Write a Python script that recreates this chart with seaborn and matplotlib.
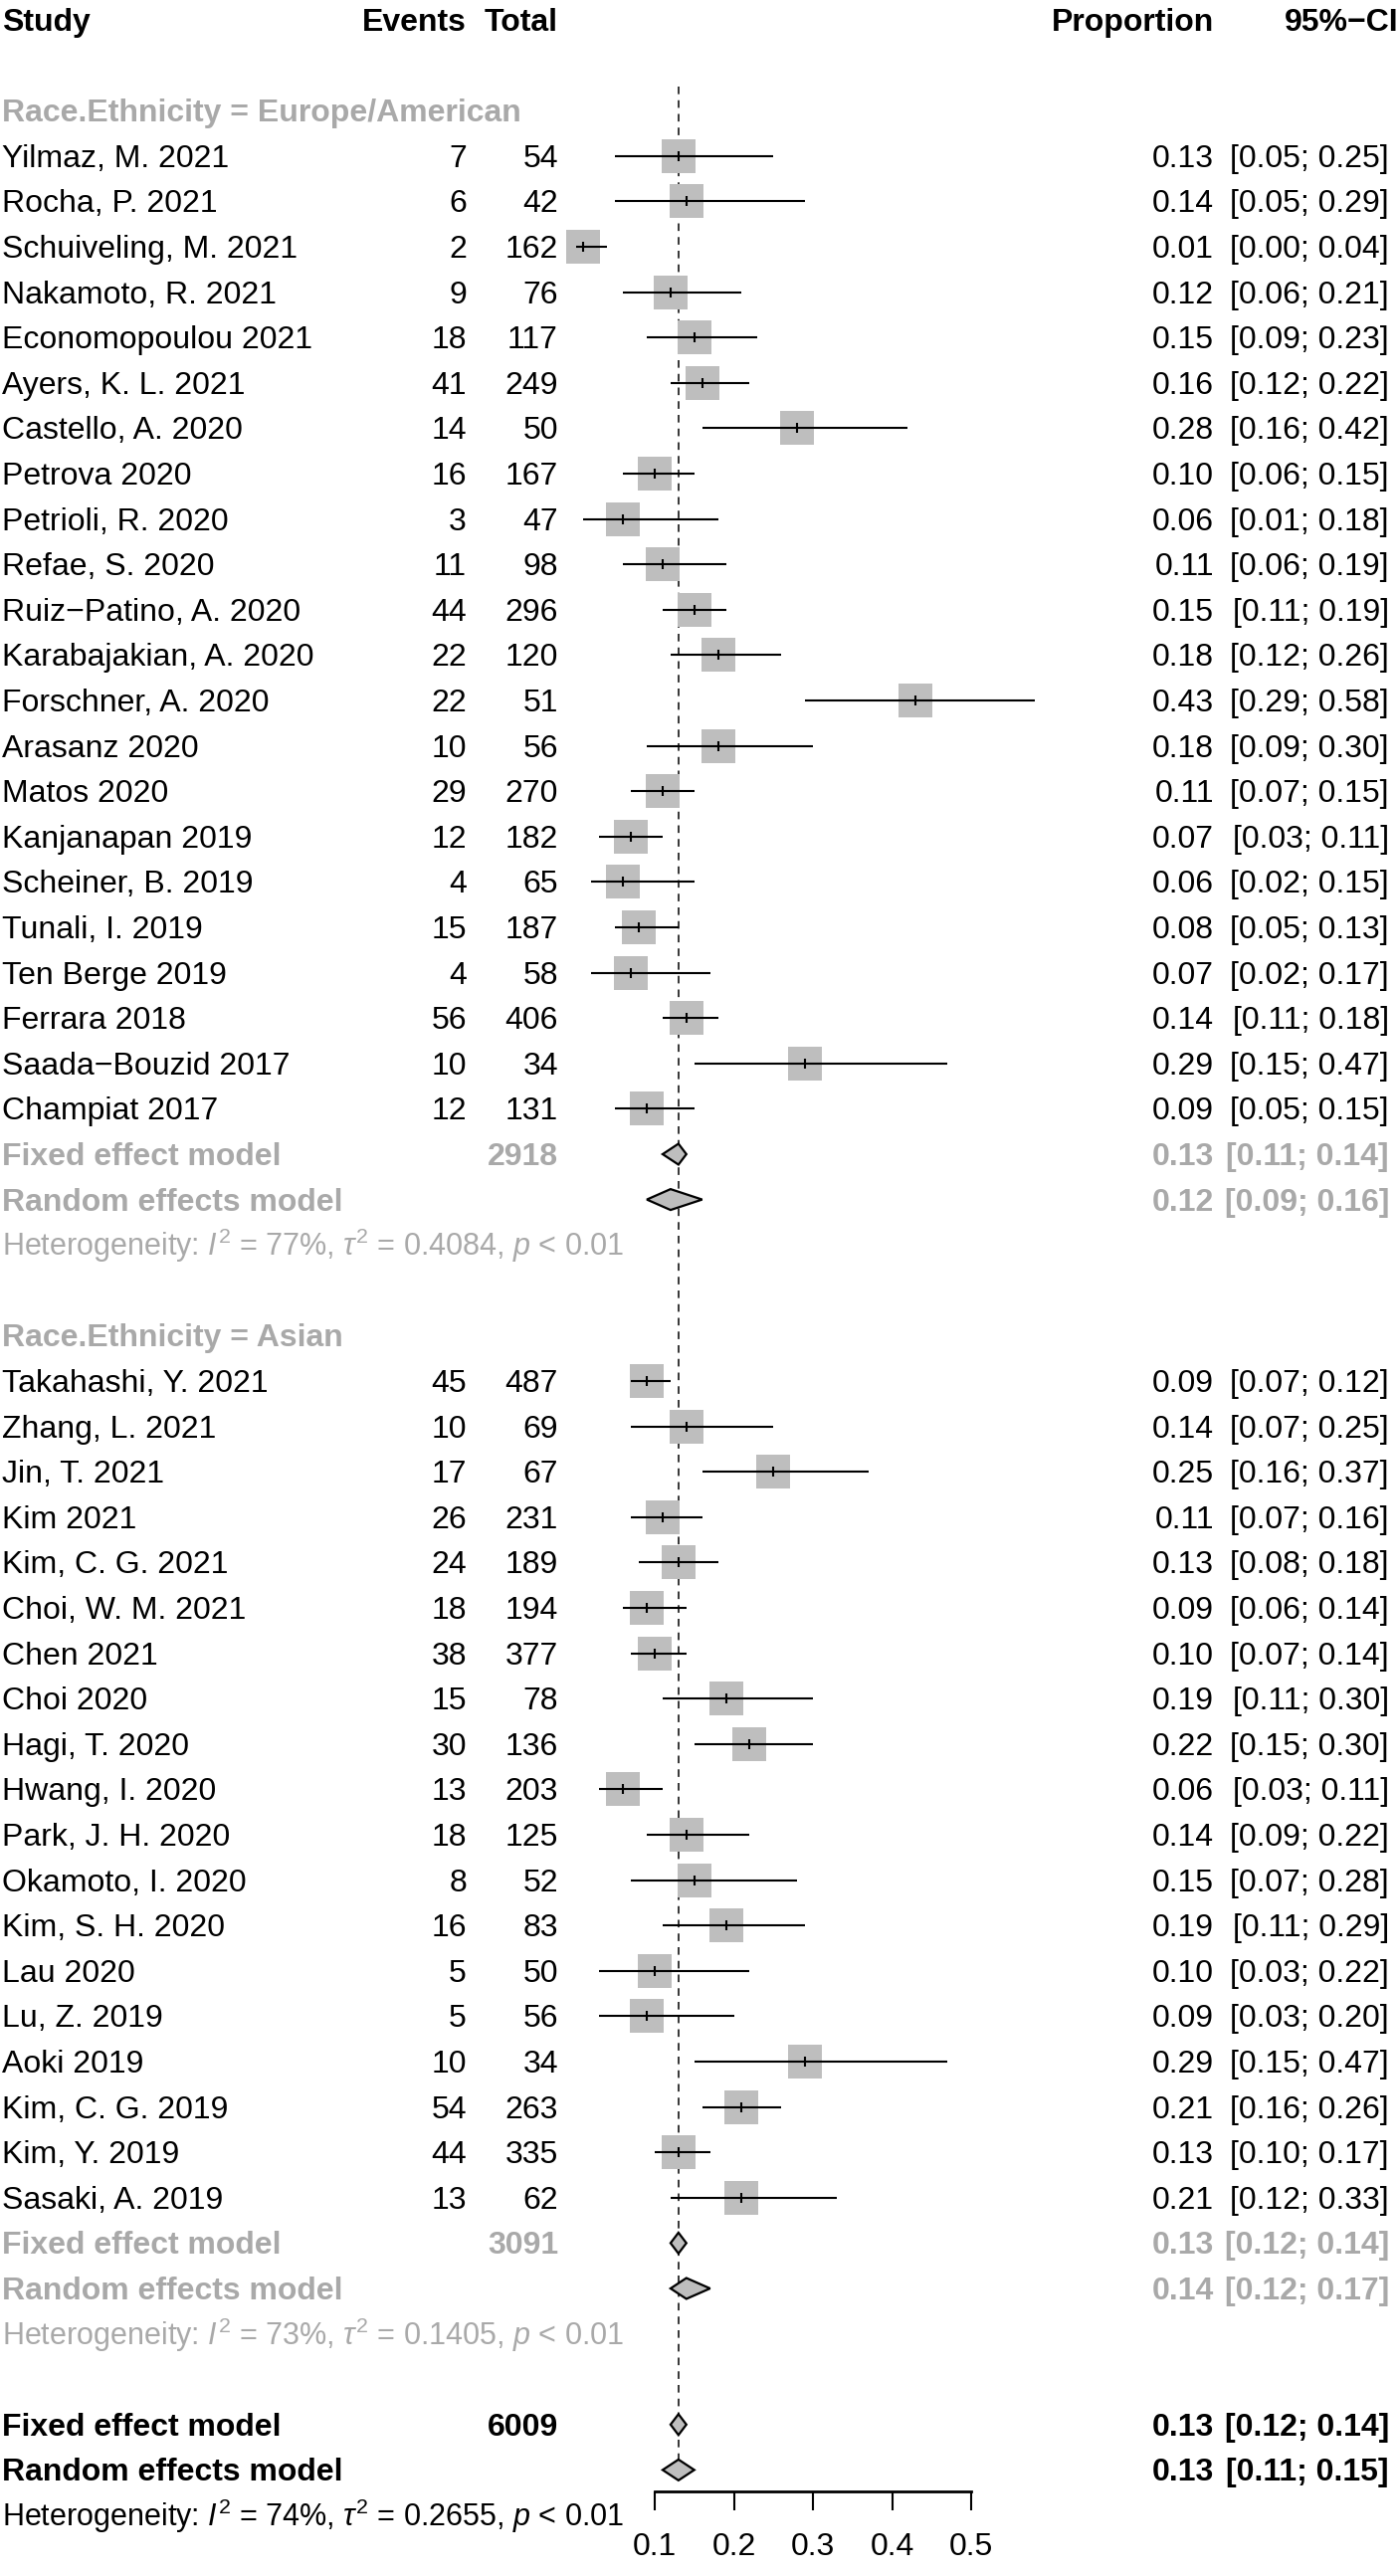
import matplotlib
matplotlib.use("Agg")
import matplotlib.pyplot as plt
import seaborn as sns
import pandas as pd

# ---- data ----
eu_study = ["Yilmaz, M. 2021", "Rocha, P. 2021", "Schuiveling, M. 2021", "Nakamoto, R. 2021",
            "Economopoulou 2021", "Ayers, K. L. 2021", "Castello, A. 2020", "Petrova 2020",
            "Petrioli, R. 2020", "Refae, S. 2020", "Ruiz\u2212Patino, A. 2020", "Karabajakian, A. 2020",
            "Forschner, A. 2020", "Arasanz 2020", "Matos 2020", "Kanjanapan 2019",
            "Scheiner, B. 2019", "Tunali, I. 2019", "Ten Berge 2019", "Ferrara 2018",
            "Saada\u2212Bouzid 2017", "Champiat 2017"]
eu_events = [7, 6, 2, 9, 18, 41, 14, 16, 3, 11, 44, 22, 22, 10, 29, 12, 4, 15, 4, 56, 10, 12]
eu_total = [54, 42, 162, 76, 117, 249, 50, 167, 47, 98, 296, 120, 51, 56, 270, 182, 65, 187, 58, 406, 34, 131]
eu_prop = [0.13, 0.14, 0.01, 0.12, 0.15, 0.16, 0.28, 0.10, 0.06, 0.11, 0.15, 0.18, 0.43, 0.18,
           0.11, 0.07, 0.06, 0.08, 0.07, 0.14, 0.29, 0.09]
eu_lo = [0.05, 0.05, 0.00, 0.06, 0.09, 0.12, 0.16, 0.06, 0.01, 0.06, 0.11, 0.12, 0.29, 0.09,
         0.07, 0.03, 0.02, 0.05, 0.02, 0.11, 0.15, 0.05]
eu_hi = [0.25, 0.29, 0.04, 0.21, 0.23, 0.22, 0.42, 0.15, 0.18, 0.19, 0.19, 0.26, 0.58, 0.30,
         0.15, 0.11, 0.15, 0.13, 0.17, 0.18, 0.47, 0.15]
eu_fixed = [0.13, 0.11, 0.14]
eu_random = [0.12, 0.09, 0.16]
eu_n = 2918
eu_het = ["77%", "0.4084", "< 0.01"]

as_study = ["Takahashi, Y. 2021", "Zhang, L. 2021", "Jin, T. 2021", "Kim 2021", "Kim, C. G. 2021",
            "Choi, W. M. 2021", "Chen 2021", "Choi 2020", "Hagi, T. 2020", "Hwang, I. 2020",
            "Park, J. H. 2020", "Okamoto, I. 2020", "Kim, S. H. 2020", "Lau 2020", "Lu, Z. 2019",
            "Aoki 2019", "Kim, C. G. 2019", "Kim, Y. 2019", "Sasaki, A. 2019"]
as_events = [45, 10, 17, 26, 24, 18, 38, 15, 30, 13, 18, 8, 16, 5, 5, 10, 54, 44, 13]
as_total = [487, 69, 67, 231, 189, 194, 377, 78, 136, 203, 125, 52, 83, 50, 56, 34, 263, 335, 62]
as_prop = [0.09, 0.14, 0.25, 0.11, 0.13, 0.09, 0.10, 0.19, 0.22, 0.06, 0.14, 0.15, 0.19, 0.10,
           0.09, 0.29, 0.21, 0.13, 0.21]
as_lo = [0.07, 0.07, 0.16, 0.07, 0.08, 0.06, 0.07, 0.11, 0.15, 0.03, 0.09, 0.07, 0.11, 0.03,
         0.03, 0.15, 0.16, 0.10, 0.12]
as_hi = [0.12, 0.25, 0.37, 0.16, 0.18, 0.14, 0.14, 0.30, 0.30, 0.11, 0.22, 0.28, 0.29, 0.22,
         0.20, 0.47, 0.26, 0.17, 0.33]
as_fixed = [0.13, 0.12, 0.14]
as_random = [0.14, 0.12, 0.17]
as_n = 3091
as_het = ["73%", "0.1405", "< 0.01"]

all_fixed = [0.13, 0.12, 0.14]
all_random = [0.13, 0.11, 0.15]
all_n = 6009
all_het = ["74%", "0.2655", "< 0.01"]

ref_line = 0.13
x_ticks = [0.1, 0.2, 0.3, 0.4, 0.5]

# ---- layout (pixels of a 1407 x 2589 canvas) ----
W, H = 1407, 2589
ROW0, ROWH = 20, 45.6
X01, PX_PER = 658, 795.0      # pixel of x=0.1, pixels per unit


def fx(px):
    return px / W


GREY = "#a9a9a9"
BOX = "#bebebe"
FS = 23
FS_HET = 22

sns.set_style("white")
plt.rcParams["font.family"] = ["Liberation Sans", "DejaVu Sans"]
plt.rcParams["mathtext.fontset"] = "custom"
plt.rcParams["mathtext.rm"] = "Liberation Sans"
plt.rcParams["mathtext.it"] = "Liberation Sans:italic"
plt.rcParams["mathtext.bf"] = "Liberation Sans:bold"

fig = plt.figure(figsize=(W / 100, H / 100), dpi=100)
ax = fig.add_axes([0, 0, 1, 1])
tr = ax.get_yaxis_transform()

COL_STUDY, COL_EV, COL_TOT, COL_P, COL_CI = fx(2), fx(469), fx(561), fx(1220), fx(1396)
OFF = 0.24  # text baseline offset in rows


def put(x, r, s, ha="left", color="black", bold=False, size=FS):
    ax.text(x, r + OFF, s, transform=tr, ha=ha, va="baseline", fontsize=size,
            color=color, fontweight="bold" if bold else "normal")


def ci_txt(lo, hi):
    return f"[{lo:.2f}; {hi:.2f}]"


def diamond(r, est, lo, hi, h=0.23):
    ax.fill([lo, est, hi, est], [r, r - h, r, r + h], facecolor=BOX,
            edgecolor="black", linewidth=1.6, zorder=4)


def het_txt(h):
    return (r"Heterogeneity: $\mathit{I}^2$ = " + h[0] +
            r", $\tau^2$ = " + h[1] + r", $\mathit{p}$ " + h[2])


# header
put(COL_STUDY, 0, "Study", bold=True)
put(COL_EV, 0, "Events", ha="right", bold=True)
put(COL_TOT, 0, "Total", ha="right", bold=True)
put(COL_P, 0, "Proportion", ha="right", bold=True)
put(fx(1405), 0, "95%\u2212CI", ha="right", bold=True)

rows = []
groups = [
    ("Race.Ethnicity = Europe/American", eu_study, eu_events, eu_total, eu_prop, eu_lo, eu_hi,
     eu_fixed, eu_random, eu_n, eu_het),
    ("Race.Ethnicity = Asian", as_study, as_events, as_total, as_prop, as_lo, as_hi,
     as_fixed, as_random, as_n, as_het),
]
r = 2
for label, st, ev, tot, pr, lo, hi, fix, ran, n, het in groups:
    put(COL_STUDY, r, label, color=GREY, bold=True)
    r += 1
    for i in range(len(st)):
        rows.append(dict(row=r, study=st[i], events=ev[i], total=tot[i],
                         prop=pr[i], lo=lo[i], hi=hi[i]))
        r += 1
    put(COL_STUDY, r, "Fixed effect model", color=GREY, bold=True)
    put(COL_TOT, r, str(n), ha="right", color=GREY, bold=True)
    put(COL_P, r, f"{fix[0]:.2f}", ha="right", color=GREY, bold=True)
    put(COL_CI, r, ci_txt(fix[1], fix[2]), ha="right", color=GREY, bold=True)
    diamond(r, *fix)
    r += 1
    put(COL_STUDY, r, "Random effects model", color=GREY, bold=True)
    put(COL_P, r, f"{ran[0]:.2f}", ha="right", color=GREY, bold=True)
    put(COL_CI, r, ci_txt(ran[1], ran[2]), ha="right", color=GREY, bold=True)
    diamond(r, *ran)
    r += 1
    put(COL_STUDY, r, het_txt(het), color=GREY, size=FS_HET)
    r += 2

df = pd.DataFrame(rows)

for _, d in df.iterrows():
    put(COL_STUDY, d.row, d.study)
    put(COL_EV, d.row, str(d.events), ha="right")
    put(COL_TOT, d.row, str(d.total), ha="right")
    put(COL_P, d.row, f"{d.prop:.2f}", ha="right")
    put(COL_CI, d.row, ci_txt(d.lo, d.hi), ha="right")

# overall
put(COL_STUDY, r, "Fixed effect model", bold=True)
put(COL_TOT, r, str(all_n), ha="right", bold=True)
put(COL_P, r, f"{all_fixed[0]:.2f}", ha="right", bold=True)
put(COL_CI, r, ci_txt(all_fixed[1], all_fixed[2]), ha="right", bold=True)
diamond(r, *all_fixed)
r += 1
put(COL_STUDY, r, "Random effects model", bold=True)
put(COL_P, r, f"{all_random[0]:.2f}", ha="right", bold=True)
put(COL_CI, r, ci_txt(all_random[1], all_random[2]), ha="right", bold=True)
diamond(r, *all_random)
r_ran = r
r += 1
put(COL_STUDY, r, het_txt(all_het), size=FS_HET)

# reference line
ax.vlines(ref_line, 1.47, r_ran, colors="black", linewidth=1.1,
          linestyles=(0, (5, 4)), zorder=1)

# study squares, CIs and point ticks
sns.scatterplot(data=df, x="prop", y="row", marker="s", s=600, color=BOX,
                linewidth=0, ax=ax, zorder=2, legend=False)
ax.hlines(df["row"], df["lo"], df["hi"], colors="black", linewidth=1.5, zorder=3)
ax.scatter(df["prop"], df["row"], marker="|", s=62, color="black", linewidths=1.5, zorder=3)

# x axis
ax.set_xlim(0.1 - X01 / PX_PER, 0.1 + (W - X01) / PX_PER)
ax.set_ylim((H - ROW0) / ROWH, -ROW0 / ROWH)
for s in ["top", "left", "right"]:
    ax.spines[s].set_visible(False)
ax.spines["bottom"].set_position(("data", r_ran + 0.47))
ax.spines["bottom"].set_bounds(x_ticks[0], x_ticks[-1])
ax.spines["bottom"].set_linewidth(2)
ax.spines["bottom"].set_color("black")
ax.set_xticks(x_ticks)
ax.set_xticklabels([f"{t:.1f}" for t in x_ticks])
ax.tick_params(axis="x", direction="out", length=14, width=1.5, labelsize=FS, pad=16,
               bottom=True, colors="black")
ax.set_yticks([])
ax.set_xlabel("")
ax.set_ylabel("")

fig.savefig("out.png", dpi=100, facecolor="white")
